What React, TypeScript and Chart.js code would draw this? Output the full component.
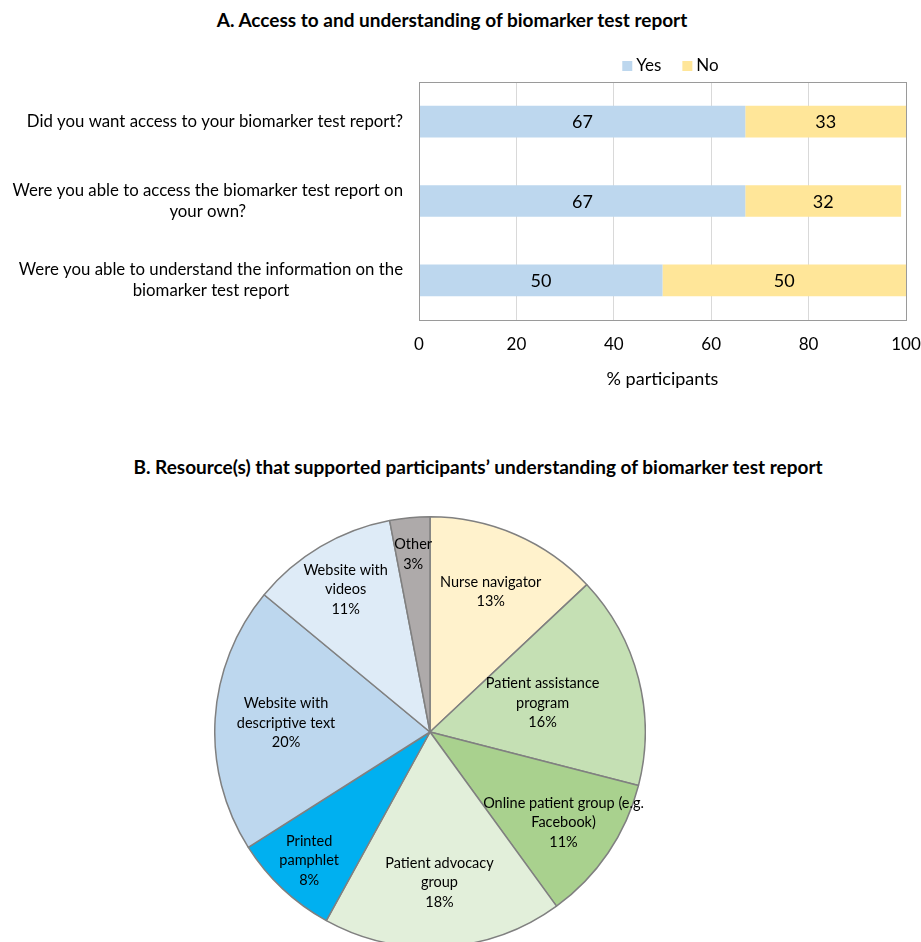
import React, { useEffect, useRef } from "react";
import { Chart, registerables } from "chart.js";
Chart.register(...registerables);

// ---------- data: panel A ----------
const questions: string[][] = [
  ["Did you want access to your biomarker test report?"],
  ["Were you able to access the biomarker test report on", "your own?"],
  ["Were you able to understand the information on the", "biomarker test report"],
];
const seriesNames = ["Yes", "No"];
const yesValues = [67, 67, 50];
const noValues = [33, 32, 50];
const xTickStep = 20;
const xMax = 100;

// ---------- data: panel B ----------
const resourceLabels: string[][] = [
  ["Nurse navigator"],
  ["Patient assistance", "program"],
  ["Online patient group (e.g.", "Facebook)"],
  ["Patient advocacy", "group"],
  ["Printed", "pamphlet"],
  ["Website with", "descriptive text"],
  ["Website with", "videos"],
  ["Other"],
];
const resourceShares = [13, 16, 11, 18, 8, 20, 11, 3];

// ---------- styles ----------
const FONT = "Lato, 'Open Sans', sans-serif";
const yesColor = "#BDD7EE";
const noColor = "#FFE699";
const resourceColors = ["#FFF2CC", "#C5E0B4", "#A9D18E", "#E2EFDA", "#00B0F0", "#BDD7EE", "#DEEBF7", "#AEAAAA"];
const labelRadius = [0.71, 0.54, 0.75, 0.7, 0.82, 0.67, 0.77, 0.83];

function BarChart() {
  const ref = useRef<HTMLCanvasElement>(null);
  useEffect(() => {
    const overlay = {
      id: "overlayA",
      afterDraw(chart: any) {
        const { ctx, chartArea } = chart;
        ctx.save();
        // plot border
        ctx.strokeStyle = "#9a9a9a";
        ctx.lineWidth = 1;
        ctx.strokeRect(chartArea.left + 0.5, chartArea.top + 0.5, chartArea.right - chartArea.left, chartArea.bottom - chartArea.top);
        // data labels
        ctx.fillStyle = "#000";
        ctx.font = `18px ${FONT}`;
        ctx.textAlign = "center";
        ctx.textBaseline = "middle";
        chart.data.datasets.forEach((ds: any, di: number) => {
          const meta = chart.getDatasetMeta(di);
          meta.data.forEach((el: any, i: number) => {
            ctx.fillText(String(ds.data[i]), (el.x + el.base) / 2, el.y + 1);
          });
        });
        // category labels
        const yScale = chart.scales.y;
        ctx.font = `16.8px ${FONT}`;
        const lh = 21;
        questions.forEach((lines, i) => {
          const yc = yScale.getPixelForValue(i);
          const w = Math.max(...lines.map((l) => ctx.measureText(l).width));
          const cx = chartArea.left - 16 - w / 2;
          lines.forEach((l, k) => {
            ctx.fillText(l, cx, yc + (k - (lines.length - 1) / 2) * lh);
          });
        });
        // legend
        ctx.font = `17px ${FONT}`;
        ctx.textAlign = "left";
        const items = chart.data.datasets.map((d: any) => ({ t: d.label, c: d.backgroundColor }));
        const widths = items.map((it: any) => 10 + 4 + ctx.measureText(it.t).width);
        const gap = 21;
        const total = widths.reduce((a: number, b: number) => a + b, 0) + gap * (items.length - 1);
        let x = (chartArea.left + chartArea.right) / 2 + 8 - total / 2;
        const ly = 66;
        items.forEach((it: any, i: number) => {
          ctx.fillStyle = it.c;
          ctx.fillRect(x, ly - 5, 10, 10);
          ctx.fillStyle = "#000";
          ctx.fillText(it.t, x + 14, ly);
          x += widths[i] + gap;
        });
        ctx.restore();
      },
    };
    const chart = new Chart(ref.current!, {
      type: "bar",
      data: {
        labels: questions.map((q) => q.join(" ")),
        datasets: [
          { label: seriesNames[0], data: yesValues, backgroundColor: yesColor, barPercentage: 0.4, categoryPercentage: 1 },
          { label: seriesNames[1], data: noValues, backgroundColor: noColor, barPercentage: 0.4, categoryPercentage: 1 },
        ],
      },
      options: {
        indexAxis: "y",
        responsive: false,
        animation: false,
        layout: { padding: { left: 419, right: 15, top: 82, bottom: 0 } },
        plugins: { legend: { display: false }, tooltip: { enabled: false }, title: { display: false } },
        scales: {
          x: {
            stacked: true,
            min: 0,
            max: xMax,
            ticks: { stepSize: xTickStep, color: "#000", font: { family: FONT, size: 17 }, padding: 14 },
            grid: {
              drawTicks: false,
              color: (c: any) => (c.tick && (c.tick.value === 0 || c.tick.value === xMax) ? "#9a9a9a" : "#d9d9d9"),
            },
            border: { display: false },
            title: { display: true, text: "% participants", color: "#000", font: { family: FONT, size: 18 }, padding: { top: 12, bottom: 10 } },
            afterFit: (s: any) => {
              s.height = 80;
              s.paddingLeft = 0;
              s.paddingRight = 0;
            },
          },
          y: { stacked: true, display: false },
        },
      } as any,
      plugins: [overlay],
    });
    return () => chart.destroy();
  }, []);
  return <canvas ref={ref} width={921} height={400} style={{ position: "absolute", left: 0, top: 0, width: 921, height: 400 }} />;
}

function PieChart() {
  const ref = useRef<HTMLCanvasElement>(null);
  useEffect(() => {
    const total = resourceShares.reduce((a, b) => a + b, 0);
    const labelsPlugin = {
      id: "pieLabels",
      afterDatasetsDraw(chart: any) {
        const { ctx } = chart;
        const meta = chart.getDatasetMeta(0);
        ctx.save();
        ctx.fillStyle = "#000";
        ctx.font = `14.5px ${FONT}`;
        ctx.textAlign = "center";
        ctx.textBaseline = "middle";
        const lh = 19.5;
        meta.data.forEach((el: any, i: number) => {
          const mid = (el.startAngle + el.endAngle) / 2;
          const r = el.outerRadius * labelRadius[i];
          const px = el.x + Math.cos(mid) * r;
          const py = el.y + Math.sin(mid) * r;
          const lines = [...resourceLabels[i], `${Math.round((resourceShares[i] / total) * 100)}%`];
          lines.forEach((l, k) => {
            ctx.fillText(l, px, py + (k - (lines.length - 1) / 2) * lh);
          });
        });
        ctx.restore();
      },
    };
    const chart = new Chart(ref.current!, {
      type: "pie",
      data: {
        labels: resourceLabels.map((l) => l.join(" ")),
        datasets: [
          {
            data: resourceShares,
            backgroundColor: resourceColors,
            borderColor: "#808080",
            borderWidth: 1.5,
            hoverOffset: 0,
          },
        ],
      },
      options: {
        responsive: false,
        animation: false,
        layout: { padding: 0 },
        plugins: { legend: { display: false }, tooltip: { enabled: false } },
      } as any,
      plugins: [labelsPlugin],
    });
    return () => chart.destroy();
  }, []);
  return <canvas ref={ref} width={432} height={432} style={{ position: "absolute", left: 214, top: 516, width: 432, height: 432 }} />;
}

export default function App() {
  const titleStyle: React.CSSProperties = {
    position: "absolute",
    fontFamily: FONT,
    fontWeight: 700,
    fontSize: 19,
    lineHeight: "22px",
    textAlign: "center",
    color: "#000",
    whiteSpace: "nowrap",
  };
  return (
    <div style={{ position: "absolute", left: 0, top: 0, width: 921, height: 942, overflow: "hidden", background: "#fff" }}>
      <div style={{ ...titleStyle, left: 0, width: 904, top: 9 }}>A. Access to and understanding of biomarker test report</div>
      <BarChart />
      <div style={{ ...titleStyle, left: 100, width: 756, top: 456 }}>
        B. Resource(s) that supported participants’ understanding of biomarker test report
      </div>
      <PieChart />
    </div>
  );
}
